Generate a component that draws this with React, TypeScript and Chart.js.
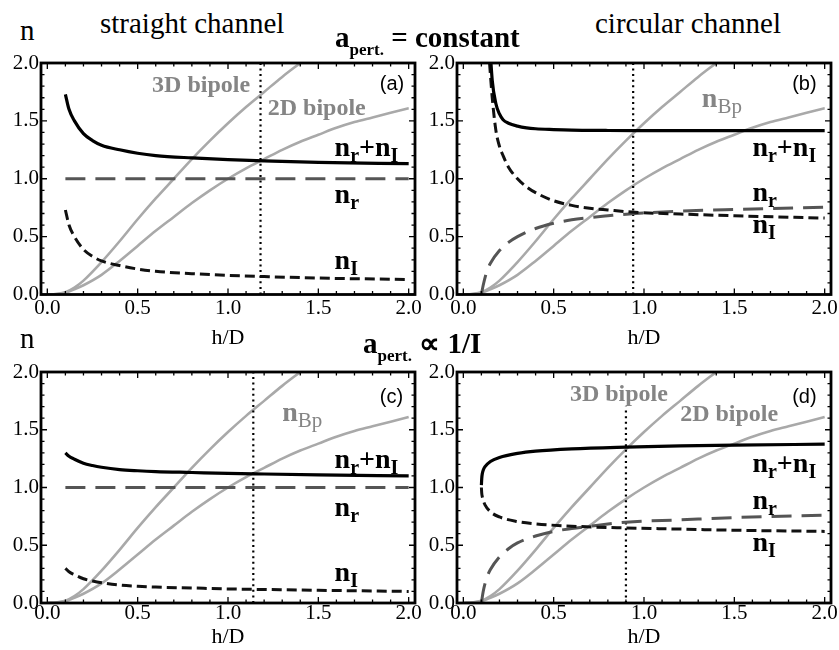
import React, { useEffect, useRef } from 'react';
import { Chart, registerables } from 'chart.js';

Chart.register(...registerables);

const SERIF = "'Liberation Serif', 'Times New Roman', Times, serif";
const SANS = "'Liberation Sans', Arial, sans-serif";

// ---------- axis ticks ----------
const majorTicks = [0, 0.5, 1, 1.5, 2];
const tickLabels = ['0.0', '0.5', '1.0', '1.5', '2.0'];
const minorTicks = [0.1, 0.2, 0.3, 0.4, 0.6, 0.7, 0.8, 0.9, 1.1, 1.2, 1.3, 1.4, 1.6, 1.7, 1.8, 1.9];

// ---------- bipole curves (same in every panel) ----------
const bipole3DX = [0, 0.05, 0.1, 0.15, 0.2, 0.3, 0.4, 0.5, 0.6, 0.7, 0.8, 0.9, 1.0, 1.1, 1.2, 1.3, 1.4, 1.5];
const bipole3D = [0, 0.005, 0.02, 0.06, 0.12, 0.28, 0.46, 0.65, 0.83, 1.0, 1.17, 1.33, 1.48, 1.62, 1.75, 1.88, 2.0, 2.12];
const bipole2DX = [0, 0.05, 0.1, 0.15, 0.2, 0.3, 0.4, 0.5, 0.6, 0.7, 0.8, 0.9, 1.0, 1.1, 1.2, 1.3, 1.4, 1.5, 1.6, 1.7, 1.8, 1.9, 2.0];
const bipole2D = [0, 0.004, 0.015, 0.045, 0.08, 0.17, 0.29, 0.42, 0.55, 0.67, 0.79, 0.9, 1.0, 1.09, 1.17, 1.25, 1.32, 1.38, 1.44, 1.49, 1.53, 1.57, 1.61];

// ---------- (a) straight channel, a = constant ----------
const gridA = [0.1, 0.12, 0.15, 0.2, 0.25, 0.3, 0.4, 0.5, 0.6, 0.8, 1.0, 1.2, 1.5, 2.0];
const nIA = [0.73, 0.6, 0.5, 0.39, 0.33, 0.29, 0.25, 0.22, 0.2, 0.18, 0.165, 0.155, 0.142, 0.13];
const sumA = [1.73, 1.6, 1.5, 1.39, 1.33, 1.29, 1.25, 1.22, 1.2, 1.18, 1.165, 1.155, 1.142, 1.13];
const nrAX = [0.1, 2.0];
const nrA = [1.0, 1.0];
const dividerA = 1.18;

// ---------- (b) circular channel, a = constant ----------
const gridB = [0.145, 0.16, 0.18, 0.2, 0.22, 0.25, 0.3, 0.35, 0.4, 0.5, 0.6, 0.7, 0.8, 0.95, 1.2, 1.5, 2.0];
const nIB = [2.0, 1.7, 1.42, 1.28, 1.2, 1.1, 1.0, 0.93, 0.88, 0.81, 0.77, 0.745, 0.73, 0.71, 0.695, 0.68, 0.66];
const sumB = [2.2, 1.85, 1.65, 1.56, 1.51, 1.48, 1.455, 1.44, 1.432, 1.425, 1.42, 1.418, 1.417, 1.416, 1.415, 1.415, 1.415];
const nrBX = [0.1, 0.11, 0.13, 0.15, 0.2, 0.25, 0.3, 0.4, 0.5, 0.6, 0.7, 0.8, 0.95, 1.2, 1.5, 2.0];
const nrB = [0, 0.08, 0.2, 0.27, 0.38, 0.45, 0.5, 0.57, 0.615, 0.645, 0.665, 0.68, 0.7, 0.72, 0.735, 0.755];
const dividerB = 0.94;

// ---------- (c) straight channel, a ∝ 1/I ----------
const gridC = [0.1, 0.12, 0.15, 0.2, 0.25, 0.3, 0.4, 0.5, 0.6, 0.8, 1.0, 1.2, 1.5, 2.0];
const nIC = [0.3, 0.27, 0.245, 0.21, 0.19, 0.175, 0.155, 0.145, 0.138, 0.13, 0.122, 0.117, 0.11, 0.1];
const sumC = [1.3, 1.27, 1.245, 1.21, 1.19, 1.175, 1.155, 1.145, 1.138, 1.13, 1.122, 1.117, 1.11, 1.1];
const nrCX = [0.1, 2.0];
const nrC = [1.0, 1.0];
const dividerC = 1.14;

// ---------- (d) circular channel, a ∝ 1/I ----------
const gridD = [0.1, 0.102, 0.105, 0.11, 0.12, 0.15, 0.2, 0.3, 0.4, 0.6, 0.9, 1.2, 1.5, 2.0];
const sumD = [1.02, 1.08, 1.12, 1.15, 1.18, 1.225, 1.26, 1.295, 1.315, 1.335, 1.35, 1.36, 1.367, 1.375];
const nID = [1.0, 0.95, 0.92, 0.89, 0.85, 0.79, 0.745, 0.705, 0.685, 0.665, 0.65, 0.64, 0.63, 0.62];
const nrDX = [0.1, 0.11, 0.13, 0.15, 0.2, 0.25, 0.3, 0.4, 0.5, 0.6, 0.7, 0.9, 1.2, 1.5, 2.0];
const nrD = [0, 0.1, 0.22, 0.29, 0.4, 0.47, 0.52, 0.58, 0.62, 0.645, 0.665, 0.7, 0.72, 0.74, 0.76];
const dividerD = 0.9;

const dividerFull = [0, 2];
const dividerShort = [0, 1.7];

// ---------- in-plot labels (anchor in data units) ----------
type Part = { t: string; sub?: boolean; normal?: boolean };
const NRNI: Part[] = [{ t: 'n' }, { t: 'r', sub: true }, { t: '+n' }, { t: 'I', sub: true }];
const NR: Part[] = [{ t: 'n' }, { t: 'r', sub: true }];
const NI: Part[] = [{ t: 'n' }, { t: 'I', sub: true }];
const NBP: Part[] = [{ t: 'n' }, { t: 'Bp', sub: true, normal: true }];

type Lbl = { x: number; y: number; kind: 'n' | 'gray' | 'nbp' | 'tag'; text?: string; parts?: Part[] };

const labelsA: Lbl[] = [
  { x: 0.58, y: 1.75, kind: 'gray', text: '3D bipole' },
  { x: 1.22, y: 1.55, kind: 'gray', text: '2D bipole' },
  { x: 1.84, y: 1.77, kind: 'tag', text: '(a)' },
  { x: 1.59, y: 1.2, kind: 'n', parts: NRNI },
  { x: 1.59, y: 0.79, kind: 'n', parts: NR },
  { x: 1.59, y: 0.22, kind: 'n', parts: NI },
];
const labelsB: Lbl[] = [
  { x: 1.32, y: 1.62, kind: 'nbp', parts: NBP },
  { x: 1.82, y: 1.77, kind: 'tag', text: '(b)' },
  { x: 1.6, y: 1.2, kind: 'n', parts: NRNI },
  { x: 1.6, y: 0.81, kind: 'n', parts: NR },
  { x: 1.6, y: 0.53, kind: 'n', parts: NI },
];
const labelsC: Lbl[] = [
  { x: 1.3, y: 1.58, kind: 'nbp', parts: NBP },
  { x: 1.84, y: 1.73, kind: 'tag', text: '(c)' },
  { x: 1.59, y: 1.17, kind: 'n', parts: NRNI },
  { x: 1.59, y: 0.75, kind: 'n', parts: NR },
  { x: 1.59, y: 0.19, kind: 'n', parts: NI },
];
const labelsD: Lbl[] = [
  { x: 0.59, y: 1.75, kind: 'gray', text: '3D bipole' },
  { x: 1.2, y: 1.58, kind: 'gray', text: '2D bipole' },
  { x: 1.82, y: 1.73, kind: 'tag', text: '(d)' },
  { x: 1.6, y: 1.13, kind: 'n', parts: NRNI },
  { x: 1.6, y: 0.81, kind: 'n', parts: NR },
  { x: 1.6, y: 0.45, kind: 'n', parts: NI },
];

// ---------- panel layout (pixels) ----------
type PanelCfg = {
  id: string;
  area: { left: number; top: number; right: number; bottom: number };
  yW: number; tickPad: number; titleBase: number;
  sumX: number[]; sum: number[]; nIX: number[]; nI: number[]; nrX: number[]; nr: number[];
  divider: number; dividerY: number[]; labels: Lbl[];
};

const panels: PanelCfg[] = [
  { id: 'a', area: { left: 41, top: 63, right: 415, bottom: 294.5 }, yW: 41, tickPad: 3, titleBase: 346,
    sumX: gridA, sum: sumA, nIX: gridA, nI: nIA, nrX: nrAX, nr: nrA, divider: dividerA, dividerY: dividerFull, labels: labelsA },
  { id: 'b', area: { left: 457, top: 63, right: 831, bottom: 294.5 }, yW: 37, tickPad: 3, titleBase: 346,
    sumX: gridB, sum: sumB, nIX: gridB, nI: nIB, nrX: nrBX, nr: nrB, divider: dividerB, dividerY: dividerFull, labels: labelsB },
  { id: 'c', area: { left: 41, top: 371.5, right: 415, bottom: 603 }, yW: 41, tickPad: 0, titleBase: 645,
    sumX: gridC, sum: sumC, nIX: gridC, nI: nIC, nrX: nrCX, nr: nrC, divider: dividerC, dividerY: dividerFull, labels: labelsC },
  { id: 'd', area: { left: 457, top: 371.5, right: 831, bottom: 603 }, yW: 37, tickPad: 0, titleBase: 645,
    sumX: gridD, sum: sumD, nIX: gridD, nI: nID, nrX: nrDX, nr: nrD, divider: dividerD, dividerY: dividerShort, labels: labelsD },
];

const PAD_TOP = 15;
const PAD_RIGHT = 30;
const TITLE_SIZE = 22;

function geometry(p: PanelCfg) {
  const left = p.area.left - p.yW;
  const top = p.area.top - PAD_TOP;
  const bottom = Math.round(p.titleBase - 0.3375 * TITLE_SIZE + TITLE_SIZE / 2 + 2);
  const width = Math.round(p.area.right + PAD_RIGHT - left);
  const height = bottom - top;
  const xH = bottom - p.area.bottom;
  const titlePad = bottom - TITLE_SIZE / 2 - (p.titleBase - 0.3375 * TITLE_SIZE);
  return { left, top, width, height, xH, titlePad };
}

const framePlugin = {
  id: 'frameTicks',
  afterDatasetsDraw(chart: any) {
    const { ctx, chartArea } = chart;
    const { left, right, top, bottom } = chartArea;
    const xs = chart.scales.x;
    const ys = chart.scales.y;
    ctx.save();
    ctx.strokeStyle = '#000';
    ctx.lineWidth = 1.3;
    ctx.beginPath();
    const tick = (v: number, len: number) => {
      const px = xs.getPixelForValue(v);
      ctx.moveTo(px, bottom); ctx.lineTo(px, bottom - len);
      ctx.moveTo(px, top); ctx.lineTo(px, top + len);
      const py = ys.getPixelForValue(v);
      ctx.moveTo(left, py); ctx.lineTo(left + len, py);
      ctx.moveTo(right, py); ctx.lineTo(right - len, py);
    };
    majorTicks.forEach((v) => tick(v, 6));
    minorTicks.forEach((v) => tick(v, 3.5));
    ctx.stroke();
    ctx.lineWidth = 2.8;
    ctx.strokeRect(left, top, right - left, bottom - top);
    ctx.restore();
  },
};

function drawParts(ctx: CanvasRenderingContext2D, parts: Part[], x: number, y: number, color: string, main: number, sub: number, subNormal = false) {
  let cx = x;
  ctx.fillStyle = color;
  ctx.textBaseline = 'alphabetic';
  ctx.textAlign = 'left';
  for (const p of parts) {
    const size = p.sub ? sub : main;
    const weight = p.normal ? 'normal' : 'bold';
    ctx.font = `${weight} ${size}px ${SERIF}`;
    ctx.fillText(p.t, cx, p.sub ? y + 6 : y);
    cx += ctx.measureText(p.t).width;
  }
}

function labelPlugin(labels: Lbl[]) {
  return {
    id: 'labels',
    afterDatasetsDraw(chart: any) {
      const { ctx } = chart;
      const xs = chart.scales.x;
      const ys = chart.scales.y;
      ctx.save();
      for (const l of labels) {
        const px = xs.getPixelForValue(l.x);
        const py = ys.getPixelForValue(l.y);
        if (l.kind === 'gray') {
          ctx.font = `bold 24px ${SERIF}`;
          ctx.fillStyle = '#858585';
          ctx.textBaseline = 'alphabetic';
          ctx.textAlign = 'left';
          ctx.fillText(l.text, px, py);
        } else if (l.kind === 'tag') {
          ctx.font = `20px ${SANS}`;
          ctx.fillStyle = '#000';
          ctx.textBaseline = 'alphabetic';
          ctx.textAlign = 'left';
          ctx.fillText(l.text, px, py);
        } else if (l.kind === 'nbp') {
          drawParts(ctx, l.parts!, px, py, '#858585', 28, 21);
        } else {
          drawParts(ctx, l.parts!, px, py, '#000', 28, 20);
        }
      }
      ctx.restore();
    },
  };
}

function pts(xs: number[], ys: number[]) {
  return xs.map((x, i) => ({ x, y: ys[i] }));
}

function Panel({ p }: { p: PanelCfg }) {
  const ref = useRef<HTMLCanvasElement>(null);
  const g = geometry(p);
  useEffect(() => {
    if (!ref.current) return;
    const base = { pointRadius: 0, pointHoverRadius: 0, fill: false, cubicInterpolationMode: 'monotone' as const, clip: 0 };
    const tickFont = { family: SERIF, size: 21, lineHeight: 1 };
    const chart = new Chart(ref.current, {
      type: 'line',
      data: {
        datasets: [
          { ...base, label: 'nr+nI', data: pts(p.sumX, p.sum), borderColor: '#000', borderWidth: 3.2 },
          { ...base, label: 'nI', data: pts(p.nIX, p.nI), borderColor: '#111', borderWidth: 3, borderDash: [10, 5] },
          { ...base, label: 'nr', data: pts(p.nrX, p.nr), borderColor: '#555', borderWidth: 3, borderDash: [20, 10] },
          { ...base, label: 'divider', data: pts([p.divider, p.divider], p.dividerY), borderColor: '#000', borderWidth: 2.2, borderDash: [2, 3.6], cubicInterpolationMode: 'default', tension: 0 },
          { ...base, label: '3D bipole', data: pts(bipole3DX, bipole3D), borderColor: '#a9a9a9', borderWidth: 2.6 },
          { ...base, label: '2D bipole', data: pts(bipole2DX, bipole2D), borderColor: '#a9a9a9', borderWidth: 2.6 },
        ] as any,
      },
      options: {
        animation: false,
        responsive: false,
        maintainAspectRatio: false,
        events: [],
        layout: { padding: { left: 0, top: PAD_TOP, right: PAD_RIGHT, bottom: 0 } },
        plugins: { legend: { display: false }, tooltip: { enabled: false } },
        scales: {
          x: {
            type: 'linear', min: -0.035, max: 2.035, position: 'bottom',
            afterBuildTicks: (s: any) => { s.ticks = majorTicks.map((v) => ({ value: v })); },
            afterFit: (s: any) => { s.height = g.xH; },
            grid: { display: false, drawTicks: false },
            border: { display: false },
            ticks: {
              padding: p.tickPad, color: '#000', font: tickFont, maxRotation: 0, autoSkip: false,
              callback: (v: any) => tickLabels[majorTicks.indexOf(Number(v))] ?? '',
            },
            title: { display: true, text: 'h/D', color: '#000', font: { family: SERIF, size: TITLE_SIZE, lineHeight: 1 }, padding: { top: 0, bottom: g.titlePad } },
          },
          y: {
            type: 'linear', min: 0, max: 2, position: 'left',
            afterBuildTicks: (s: any) => { s.ticks = majorTicks.map((v) => ({ value: v })); },
            afterFit: (s: any) => { s.width = p.yW; },
            grid: { display: false, drawTicks: false },
            border: { display: false },
            ticks: {
              padding: 2, color: '#000', font: tickFont, autoSkip: false,
              callback: (v: any) => tickLabels[majorTicks.indexOf(Number(v))] ?? '',
            },
          },
        },
      } as any,
      plugins: [framePlugin, labelPlugin(p.labels)],
    });
    return () => chart.destroy();
  }, []);
  return (
    <canvas
      ref={ref}
      width={g.width}
      height={g.height}
      style={{ position: 'absolute', left: g.left, top: g.top, width: g.width, height: g.height }}
    />
  );
}

function Txt({ x, base, size, bold, children }: { x: number; base: number; size: number; bold?: boolean; children: React.ReactNode }) {
  return (
    <div
      style={{
        position: 'absolute', left: x, top: base - 0.8375 * size, fontSize: size, lineHeight: `${size}px`,
        fontFamily: SERIF, fontWeight: bold ? 'bold' : 'normal', whiteSpace: 'nowrap', color: '#000',
      }}
    >
      {children}
    </div>
  );
}

function Sub({ size, dy, children }: { size: number; dy: number; children: React.ReactNode }) {
  return <span style={{ fontSize: size, position: 'relative', top: dy, lineHeight: 0 }}>{children}</span>;
}

export default function App() {
  return (
    <div style={{ position: 'absolute', left: 0, top: 0, width: 839, height: 650, overflow: 'hidden', background: '#fff' }}>
      {panels.map((p) => <Panel key={p.id} p={p} />)}
      <Txt x={100} base={33} size={29}>straight channel</Txt>
      <Txt x={595} base={33} size={29}>circular channel</Txt>
      <Txt x={20} base={40} size={29}>n</Txt>
      <Txt x={20} base={348} size={29}>n</Txt>
      <Txt x={335} base={47} size={29} bold>a<Sub size={17} dy={8}>pert.</Sub> = constant</Txt>
      <Txt x={363} base={353} size={29} bold>a<Sub size={17} dy={8}>pert.</Sub> ∝ 1/I</Txt>
    </div>
  );
}
